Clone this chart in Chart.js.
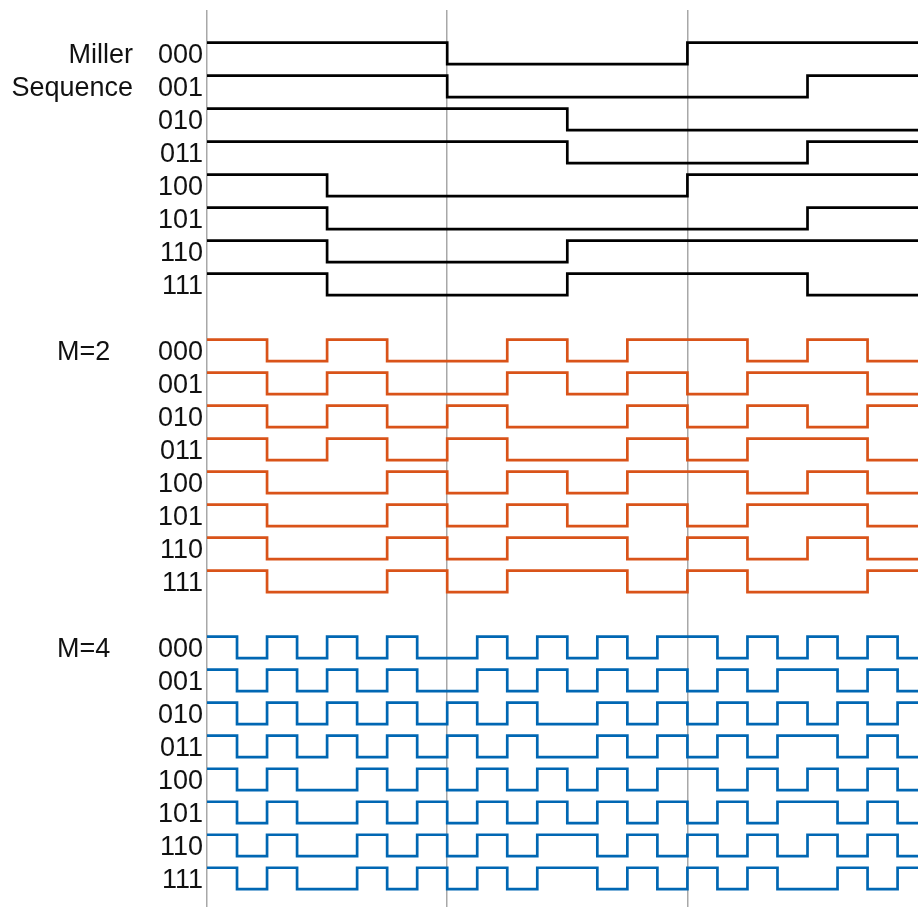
<!DOCTYPE html>
<html>
<head>
<meta charset="utf-8">
<script src="https://cdn.jsdelivr.net/npm/chart.js@4/dist/chart.umd.min.js"></script>
<style>
  html, body { margin: 0; padding: 0; background: #ffffff; }
  canvas { display: block; }
</style>
</head>
<body>
<canvas id="chart" width="918" height="907"></canvas>
<script>
// Three-bit code words shown in every group
const codeLabels = ['000', '001', '010', '011', '100', '101', '110', '111'];

// Group captions
const millerTitle = ['Miller', 'Sequence'];
const m2Title = 'M=2';
const m4Title = 'M=4';

// Baseband Miller levels, one value per half bit (1 = high, 0 = low)
const millerHalfBits = [
  [1, 1, 0, 0, 1, 1],
  [1, 1, 0, 0, 0, 1],
  [1, 1, 1, 0, 0, 0],
  [1, 1, 1, 0, 0, 1],
  [1, 0, 0, 0, 1, 1],
  [1, 0, 0, 0, 0, 1],
  [1, 0, 0, 1, 1, 1],
  [1, 0, 0, 1, 1, 0]
];

// Miller M=2 subcarrier levels, one value per quarter bit
const m2QuarterBits = [
  [1, 0, 1, 0, 0, 1, 0, 1, 1, 0, 1, 0],
  [1, 0, 1, 0, 0, 1, 0, 1, 0, 1, 1, 0],
  [1, 0, 1, 0, 1, 0, 0, 1, 0, 1, 0, 1],
  [1, 0, 1, 0, 1, 0, 0, 1, 0, 1, 1, 0],
  [1, 0, 0, 1, 0, 1, 0, 1, 1, 0, 1, 0],
  [1, 0, 0, 1, 0, 1, 0, 1, 0, 1, 1, 0],
  [1, 0, 0, 1, 0, 1, 1, 0, 1, 0, 1, 0],
  [1, 0, 0, 1, 0, 1, 1, 0, 1, 0, 0, 1]
];

// Miller M=4 subcarrier levels, one value per eighth of a bit
const m4EighthBits = [
  [1, 0, 1, 0, 1, 0, 1, 0, 0, 1, 0, 1, 0, 1, 0, 1, 1, 0, 1, 0, 1, 0, 1, 0],
  [1, 0, 1, 0, 1, 0, 1, 0, 0, 1, 0, 1, 0, 1, 0, 1, 0, 1, 0, 1, 1, 0, 1, 0],
  [1, 0, 1, 0, 1, 0, 1, 0, 1, 0, 1, 0, 0, 1, 0, 1, 0, 1, 0, 1, 0, 1, 0, 1],
  [1, 0, 1, 0, 1, 0, 1, 0, 1, 0, 1, 0, 0, 1, 0, 1, 0, 1, 0, 1, 1, 0, 1, 0],
  [1, 0, 1, 0, 0, 1, 0, 1, 0, 1, 0, 1, 0, 1, 0, 1, 1, 0, 1, 0, 1, 0, 1, 0],
  [1, 0, 1, 0, 0, 1, 0, 1, 0, 1, 0, 1, 0, 1, 0, 1, 0, 1, 0, 1, 1, 0, 1, 0],
  [1, 0, 1, 0, 0, 1, 0, 1, 0, 1, 0, 1, 1, 0, 1, 0, 1, 0, 1, 0, 1, 0, 1, 0],
  [1, 0, 1, 0, 0, 1, 0, 1, 0, 1, 0, 1, 1, 0, 1, 0, 1, 0, 1, 0, 0, 1, 0, 1]
];

// Bit boundaries marked with vertical guide lines
const bitBoundaries = [0, 1, 2];
const bitCount = 3;

// ---- drawing setup ----
const FONT = '"Liberation Sans", Arial, Helvetica, sans-serif';
const FONT_SIZE = 27;
const SWING = 0.65;          // low level sits this far below the high level (row units)
const LABEL_SHIFT = 0.06;    // nudge row labels slightly below the trace centre
const groups = [
  { levels: millerHalfBits, perBit: 2, firstRow: 0,  color: '#000000' },
  { levels: m2QuarterBits,  perBit: 4, firstRow: 9,  color: '#d95319' },
  { levels: m4EighthBits,   perBit: 8, firstRow: 18, color: '#0067b3' }
];

const highY = row => -row;
const labelY = row => -row - SWING / 2 - LABEL_SHIFT;

const datasets = [];
const rowTicks = [];
const rowTickText = [];
groups.forEach(g => {
  g.levels.forEach((levels, k) => {
    const row = g.firstRow + k;
    const pts = levels.map((v, i) => ({ x: i / g.perBit, y: highY(row) - (v ? 0 : SWING) }));
    pts.push({ x: bitCount, y: pts[pts.length - 1].y });
    datasets.push({
      data: pts,
      borderColor: g.color,
      borderWidth: 2.7,
      stepped: 'before',
      pointRadius: 0,
      borderJoinStyle: 'miter',
      borderCapStyle: 'butt',
      fill: false
    });
    rowTicks.push(labelY(row));
    rowTickText.push(codeLabels[k]);
  });
});

const groupCaptions = {
  id: 'groupCaptions',
  afterDraw(chart) {
    const y = chart.scales.y;
    const ctx = chart.ctx;
    ctx.save();
    ctx.font = FONT_SIZE + 'px ' + FONT;
    ctx.fillStyle = '#111111';
    ctx.textBaseline = 'middle';
    ctx.textAlign = 'right';
    ctx.fillText(millerTitle[0], 133, y.getPixelForValue(labelY(0)));
    ctx.fillText(millerTitle[1], 133, y.getPixelForValue(labelY(1)));
    ctx.textAlign = 'left';
    ctx.fillText(m2Title, 57, y.getPixelForValue(labelY(9)));
    ctx.fillText(m4Title, 57, y.getPixelForValue(labelY(18)));
    ctx.restore();
  }
};

const noScalePadding = s => {
  s.paddingTop = 0; s.paddingBottom = 0; s.paddingLeft = 0; s.paddingRight = 0;
};

new Chart(document.getElementById('chart'), {
  type: 'line',
  data: { datasets },
  options: {
    responsive: false,
    animation: false,
    devicePixelRatio: 1,
    layout: { padding: { top: 10, right: 0, bottom: 0, left: 0 } },
    plugins: { legend: { display: false }, tooltip: { enabled: false } },
    scales: {
      x: {
        type: 'linear',
        min: 0,
        max: 2.96,
        z: 1,
        afterBuildTicks: s => { s.ticks = bitBoundaries.map(v => ({ value: v })); },
        afterFit: s => { s.height = 0; noScalePadding(s); },
        grid: { color: '#a8a8a8', lineWidth: 1.5, drawTicks: false },
        border: { display: false },
        ticks: { display: false }
      },
      y: {
        type: 'linear',
        min: -26.19,
        max: 0.991,
        afterBuildTicks: s => { s.ticks = rowTicks.map(v => ({ value: v })); },
        afterFit: s => { s.width = 207; noScalePadding(s); },
        grid: { display: false, drawTicks: false },
        border: { display: false },
        ticks: {
          autoSkip: false,
          padding: 4,
          color: '#111111',
          font: { family: FONT, size: FONT_SIZE },
          callback: (value, index) => rowTickText[index]
        }
      }
    }
  },
  plugins: [groupCaptions]
});
</script>
</body>
</html>
